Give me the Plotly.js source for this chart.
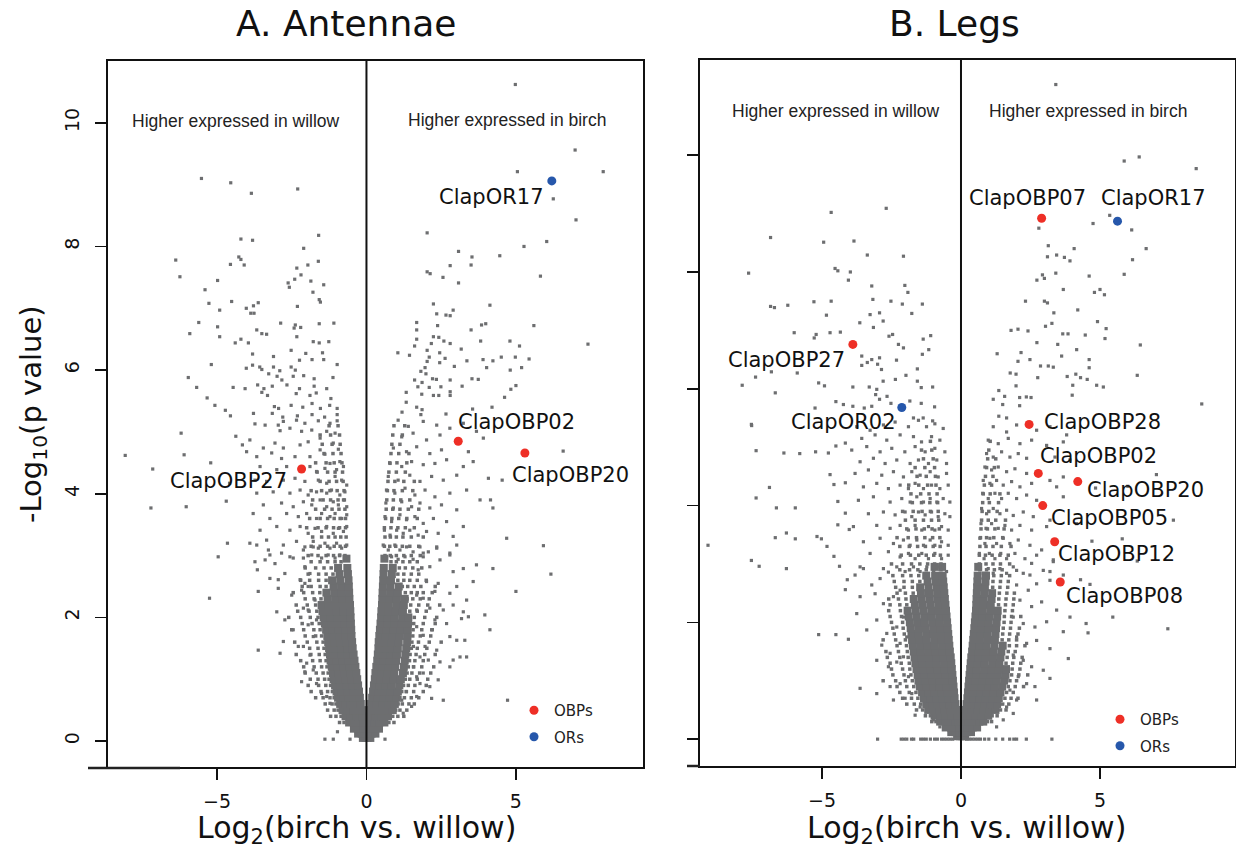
<!DOCTYPE html>
<html><head><meta charset="utf-8">
<script src="https://cdn.plot.ly/plotly-3.0.1.min.js"></script>
<style>html,body{margin:0;padding:0;background:#fff}#chart{width:1236px;height:848px}</style>
</head><body><div id="chart"></div>
<script>
// ---------------- DATA ----------------
// Panel A (Antennae): individual genes (log2 FC, -log10 p)
const antScatter = [
[4.98,10.62],[6.98,9.56],[5.05,9.21],[7.92,9.21],[6.25,8.77],[7.01,8.43],[2.03,8.22],[6.03,8.08],[5.27,8.0],[3.08,7.92],[4.46,7.85],[3.53,7.83],[3.5,7.7],[2.8,7.69],[2.03,7.59],[2.13,7.56],[2.56,7.5],[5.82,7.52],[3.08,7.41],[4.13,7.05],[2.24,7.07],[2.9,6.97],[2.35,6.91],[2.66,6.89],[2.8,6.88],[1.68,6.77],[3.99,6.75],[3.85,6.73],[5.6,6.72],[2.38,6.72],[1.68,6.65],[3.5,6.65],[2.24,6.54],[2.42,6.53],[1.68,6.5],[2.59,6.47],[4.8,6.47],[2.17,6.43],[2.8,6.43],[3.82,6.47],[5.12,6.39],[7.41,6.42],[1.61,6.39],[3.17,6.34],[2.03,6.32],[2.45,6.28],[1.05,6.28],[1.44,6.24],[2.1,6.21],[2.63,6.19],[3.36,6.15],[3.9,6.17],[4.23,6.15],[4.51,6.21],[4.98,6.21],[5.44,6.18],[2.03,6.14],[2.45,6.12],[1.96,6.04],[2.94,6.06],[4.02,6.04],[4.81,6.0],[5.19,6.04],[1.82,5.98],[1.99,5.94],[2.21,5.86],[2.34,5.85],[2.8,5.84],[3.53,5.86],[3.74,5.85],[1.61,5.84],[1.86,5.8],[3.2,5.74],[5.0,5.75],[1.72,5.73],[2.1,5.72],[2.49,5.73],[4.83,5.69],[2.8,5.65],[2.8,5.59],[1.33,5.64],[1.85,5.61],[2.24,5.59],[2.42,5.59],[4.62,5.56],[1.33,5.48],[1.68,5.4],[1.86,5.36],[3.55,5.37],[4.2,5.4],[1.19,5.32],[1.82,5.28],[2.66,5.29],
[-5.52,9.1],[-4.54,9.03],[-3.85,8.86],[-2.3,8.93],[-1.6,8.18],[-4.2,8.12],[-3.81,8.1],[-2.1,7.97],[-6.38,7.78],[-4.27,7.83],[-4.2,7.79],[-4.09,7.7],[-4.55,7.71],[-1.61,7.76],[-1.96,7.7],[-6.24,7.51],[-2.33,7.65],[-2.19,7.54],[-4.98,7.45],[-2.4,7.47],[-2.62,7.41],[-2.58,7.34],[-1.86,7.44],[-1.43,7.38],[-5.4,7.3],[-1.79,7.26],[-1.58,7.14],[-1.54,7.1],[-5.27,7.08],[-4.51,7.11],[-3.62,7.09],[-3.78,7.04],[-4.02,7.0],[-4.91,6.97],[-2.31,7.03],[-3.87,6.92],[-3.76,6.92],[-5.61,6.77],[-4.98,6.7],[-2.87,6.76],[-2.38,6.73],[-2.42,6.68],[-2.2,6.69],[-1.58,6.75],[-1.09,6.76],[-5.91,6.59],[-3.67,6.65],[-3.5,6.59],[-3.34,6.58],[-4.91,6.54],[-2.33,6.54],[-4.2,6.5],[-4.39,6.44],[-3.95,6.44],[-1.78,6.46],[-1.58,6.44],[-1.26,6.46],[-2.52,6.32],[-2.03,6.27],[-1.47,6.28],[-3.81,6.26],[-3.11,6.22],[-1.82,6.17],[-1.43,6.17],[-2.24,6.16],[-5.19,6.09],[-4.02,6.03],[-3.81,6.08],[-3.57,6.05],[-3.5,6.01],[-3.11,6.05],[-2.9,5.99],[-2.52,6.05],[-2.38,6.0],[-0.98,6.09],[-5.96,5.88],[-3.27,5.94],[-2.99,5.9],[-2.83,5.84],[-2.45,5.9],[-2.1,5.91],[-1.75,5.86],[-1.12,5.88],[-5.68,5.72],[-4.46,5.72],[-4.06,5.7],[-3.64,5.76],[-3.43,5.7],[-3.15,5.74],[-2.66,5.76],[-2.24,5.7],[-1.75,5.74],[-1.33,5.7],[-3.5,5.64],[-3.31,5.59],[-2.35,5.62],[-1.89,5.59],[-1.68,5.63],[-5.33,5.55],[-5.07,5.43],[-1.19,5.54],[-3.08,5.41],[-2.94,5.38],[-2.52,5.43],[-2.13,5.4],[-1.82,5.46],[-1.54,5.38],[-1.23,5.43],[-0.98,5.38],[-4.72,5.35],[-4.55,5.26],[-3.78,5.3],[-3.15,5.3],[-2.8,5.24],[-2.31,5.26],[-1.82,5.28],[-1.4,5.24],[-0.98,5.28],
[-8.07,4.62],[-7.15,4.4],[-7.21,3.77],[-6.03,3.79],[-6.2,4.98],[-6.1,4.63],[-4.65,3.2],[-4.96,2.98],[-5.25,2.31],[-4.69,3.88],[-5.21,4.5],[-4.37,4.93],[-4.15,4.79],[-4.01,4.68],[-4.58,4.17],[6.58,4.69],[4.54,4.22],[4.15,3.9],[4.23,3.77],[4.69,3.28],[5.92,3.16],[4.23,2.79],[6.17,2.7],[5.0,2.42],[4.72,0.66],[4.08,4.25],
[-3.73,5.13],[-3.39,5.11],[-2.95,5.11],[-2.78,5.17],[-2.34,5.19],[-2.06,5.14],[-1.61,5.18],[-1.22,5.14],[-0.98,5.18],[-2.89,5.02],[-2.56,5.06],[-2.17,5.01],[-1.83,5.03],[-1.33,5.01],[-1.05,4.98],[-3.9,4.87],[-3.45,4.74],[-3.06,4.82],[-2.78,4.74],[-2.22,4.79],[-1.95,4.84],[-1.55,4.9],[-1.11,4.82],[-1.55,4.71],[-0.94,4.72],[-3.67,4.6],[-3.17,4.66],[-2.84,4.57],[-2.39,4.6],[-1.89,4.6],[-1.39,4.64],[-1.22,4.49],[-0.89,4.52],[-3.56,4.44],[-3.0,4.39],[-2.67,4.44],[-1.89,4.44],[-1.67,4.36],[-1.39,4.41],[-1.0,4.39],[-0.77,4.44],[-3.73,4.22],[-3.34,4.2],[-2.78,4.22],[-2.39,4.25],[-2.06,4.2],[-1.61,4.22],[-1.33,4.17],[-1.05,4.28],[-0.83,4.22],[-0.66,4.14],[-3.67,4.01],[-3.12,4.03],[-2.56,4.01],[-2.22,4.06],[-1.95,3.98],[-1.67,4.03],[-1.33,4.01],[-1.17,4.06],[-0.89,3.98],[-0.72,4.03],[-3.45,3.82],[-2.84,3.85],[-2.45,3.79],[-2.11,3.87],[-1.83,3.82],[-1.55,3.9],[-1.33,3.79],[-1.11,3.87],[-0.94,3.82],[-0.77,3.9],[-0.66,3.79],[-3.79,3.68],[-3.23,3.6],[-2.67,3.68],[-2.28,3.63],[-2.0,3.68],[-1.67,3.6],[-1.5,3.68],[-1.22,3.63],[-1.05,3.68],[-0.83,3.6],[-0.66,3.66],[-3.56,3.41],[-3.0,3.47],[-2.56,3.41],[-2.22,3.47],[-1.95,3.36],[-1.72,3.44],[-1.5,3.39],[-1.33,3.47],[-1.11,3.36],[-0.94,3.44],[-0.77,3.39],[-0.66,3.47],[-3.9,3.2],[-3.34,3.25],[-2.78,3.17],[-2.34,3.23],[-2.06,3.14],[-1.78,3.23],[-1.61,3.12],[-1.39,3.2],[-1.22,3.12],[-1.0,3.2],[-0.83,3.12],[-0.66,3.17],[-3.23,3.01],[-2.56,2.98],[-2.11,2.96],[-1.83,3.01],[-1.5,2.96],[-1.28,3.01],[-1.05,2.96],[-0.89,3.01],[-0.72,2.96],
[1.06,5.19],[1.4,5.09],[1.9,5.17],[2.35,5.11],[2.79,5.06],[3.24,5.14],[3.91,4.9],[1.18,4.92],[1.56,4.98],[2.01,4.87],[2.46,4.95],[3.68,5.01],[0.9,4.74],[1.34,4.68],[1.68,4.76],[2.12,4.65],[2.51,4.71],[3.41,4.68],[0.79,4.49],[1.18,4.44],[1.51,4.52],[1.9,4.47],[2.29,4.49],[2.68,4.55],[3.24,4.44],[3.57,4.52],[0.73,4.28],[1.06,4.22],[1.45,4.3],[1.79,4.2],[2.18,4.28],[2.57,4.22],[3.02,4.3],[0.67,4.06],[0.95,4.01],[1.29,4.09],[1.62,3.98],[1.96,4.06],[2.29,3.95],[2.79,4.01],[3.35,4.06],[0.65,3.85],[0.9,3.77],[1.18,3.87],[1.51,3.79],[1.79,3.85],[2.12,3.77],[2.51,3.82],[3.02,3.74],[3.8,3.9],[0.62,3.63],[0.84,3.55],[1.12,3.66],[1.34,3.58],[1.62,3.63],[1.9,3.52],[2.24,3.6],[2.68,3.55],[3.24,3.47],[0.6,3.41],[0.79,3.33],[1.01,3.41],[1.23,3.36],[1.45,3.41],[1.73,3.33],[2.01,3.39],[2.4,3.36],[2.9,3.31],[0.56,3.17],[0.73,3.09],[0.95,3.17],[1.12,3.09],[1.34,3.14],[1.56,3.06],[1.79,3.14],[2.07,3.06],[2.35,3.12],[2.79,3.04],[0.62,2.96],[0.84,2.98],[1.06,2.94],[1.29,2.98],[1.56,2.94],[1.9,2.98],
[-3.67,3.17],[-3.28,3.09],[-2.84,3.04],[-3.73,2.9],[-3.39,2.93],[-3.06,2.87],[-3.65,2.77],[-2.73,2.71],[-3.23,2.63],[-2.95,2.61],[-2.22,2.61],[-2.06,2.55],[-2.95,2.47],[-2.5,2.36],[-3.62,2.42],[-2.17,2.44],[-1.95,2.5],[-2.11,2.15],[-1.95,2.12],[-3.0,2.09],[-2.73,1.96],[-2.45,1.8],[-3.62,1.47],[-2.89,1.42],[-2.78,1.61],[-2.28,1.53],[-2.11,1.53],[-1.89,1.39],[-2.0,1.26],[-2.06,1.12],[-2.17,0.96],[-1.78,1.15],[-1.67,0.93],[-1.5,0.77],[-1.33,0.72],[-1.22,0.61],[-1.39,0.03],[-1.11,0.03],[-0.55,0.03],[-0.97,0.15],[-1.78,1.69],[-1.95,1.88],[-1.67,1.96],[-1.72,2.28],[-1.89,2.71],[-2.06,2.82],[-2.45,2.96],[-2.11,3.09],[-1.78,3.14],
[0.62,0.03],[1.23,0.45],[1.51,0.56],[1.18,0.66],[1.68,0.72],[1.34,0.8],[1.79,0.93],[2.12,0.88],[2.57,0.66],[2.18,0.69],[1.68,1.04],[1.9,1.1],[2.4,0.99],[2.79,1.2],[2.46,1.28],[2.9,1.31],[1.57,1.2],[1.79,1.36],[2.07,1.31],[3.13,1.36],[3.35,1.36],[1.57,1.53],[1.96,1.53],[2.35,1.47],[2.79,1.69],[3.02,1.63],[3.29,1.63],[1.9,1.71],[2.18,1.8],[1.68,1.85],[2.29,1.96],[2.68,1.9],[3.18,1.98],[3.41,2.01],[3.96,2.04],[1.68,2.12],[2.12,2.15],[2.57,2.12],[2.9,2.2],[3.24,2.09],[1.68,2.36],[1.9,2.31],[2.29,2.42],[2.79,2.39],[3.02,2.5],[3.35,2.28],[2.01,2.58],[2.4,2.55],[2.9,2.74],[3.57,2.58],[1.73,2.77],[2.12,2.82],[2.46,2.93],[2.79,3.01],[3.24,2.79],[3.68,2.85],[1.9,3.04],[2.35,3.14],[3.02,3.17],[4.13,1.8]
];
// Panel A dense core of the volcano: rows of [-log10 p, log2 FC, log2 FC, ...]
const antCoreRows = [
[0.05,-0.12,-0.03,0.04,0.13],
[0.12,-0.28,-0.16,-0.06,0.06,0.17,0.3],
[0.2,-0.42,-0.26,-0.1,0.08,0.24,0.42],
[0.3,-0.58,-0.41,-0.25,-0.1,0.09,0.26,0.43,0.6],
[0.4,-0.7,-0.52,-0.33,-0.14,0.11,0.3,0.5,0.72],
[0.5,-0.8,-0.62,-0.43,-0.25,-0.15,0.13,0.32,0.52,0.72,0.88],
[0.6,-0.88,-0.7,-0.52,-0.35,-0.19,0.16,0.34,0.54,0.74,0.95],
[0.7,-0.95,-0.78,-0.6,-0.42,-0.22,0.19,0.37,0.57,0.77,1.0],
[0.8,-1.0,-0.82,-0.63,-0.44,-0.25,0.22,0.4,0.6,0.8,1.05],
[0.9,-1.05,-0.86,-0.66,-0.47,-0.28,0.25,0.44,0.64,0.85,1.1],
[1.0,-1.1,-0.9,-0.7,-0.5,-0.31,0.28,0.47,0.68,0.9,1.15],
[1.1,-1.12,-0.92,-0.73,-0.53,-0.34,0.3,0.5,0.71,0.93,1.22],
[1.2,-1.16,-0.96,-0.76,-0.56,-0.37,0.33,0.53,0.74,0.96,1.25],
[1.3,-1.2,-0.99,-0.79,-0.59,-0.4,0.36,0.56,0.77,0.99,1.28],
[1.4,-1.22,-1.02,-0.82,-0.62,-0.43,0.38,0.58,0.8,1.02,1.3],
[1.5,-1.25,-1.05,-0.85,-0.65,-0.46,0.4,0.6,0.82,1.05,1.33],
[1.6,-1.28,-1.08,-0.88,-0.68,-0.48,0.41,0.62,0.84,1.08,1.36],
[1.7,-1.31,-1.1,-0.9,-0.7,-0.5,0.43,0.64,0.87,1.12,1.37],
[1.8,-1.35,-1.14,-0.92,-0.71,-0.51,0.45,0.66,0.9,1.15,1.38],
[1.9,-1.39,-1.17,-0.95,-0.73,-0.52,0.47,0.69,0.93,1.18,1.39],
[2.0,-1.43,-1.2,-0.97,-0.75,-0.53,0.49,0.71,0.95,1.2,1.4],
[2.1,-1.47,-1.23,-1.0,-0.77,-0.54,0.5,0.73,0.98,1.22],
[2.2,-1.5,-1.26,-1.02,-0.78,-0.55,0.52,0.75,1.0,1.25],
[2.3,-1.3,-1.05,-0.8,-0.57,0.53,0.77,1.02,1.28],
[2.4,-1.34,-1.08,-0.82,-0.58,0.54,0.79,1.05],
[2.5,-1.1,-0.85,-0.59,0.55,0.8,1.08],
[2.6,-1.15,-0.88,-0.6,0.56,0.82],
[2.7,-0.9,-0.62,0.57,0.85],
[2.8,-0.95,-0.64,0.58,0.88],
[2.95,-0.67,0.6]
];
// Panel A: the busy band of genes around the dense core, rows of [-log10 p, log2 FC, ...]
const antHaloRows = [
[0.3,-0.75,-0.9,0.75,0.92],
[0.4,-0.85,-1.02,-1.2,0.88,1.05,1.25],
[0.5,-0.95,-1.08,-1.3,0.98,1.12,1.35],
[0.6,-1.02,-1.15,-1.38,1.06,1.2,1.42,1.6],
[0.7,-1.08,-1.22,-1.45,-1.7,1.12,1.27,1.5,1.75],
[0.8,-1.14,-1.3,-1.52,-1.85,1.18,1.33,1.58,1.9],
[0.9,-1.2,-1.36,-1.6,-1.95,1.24,1.4,1.62,2.0],
[1.0,-1.25,-1.4,-1.62,-1.88,1.3,1.45,1.7,2.05],
[1.1,-1.28,-1.45,-1.68,-2.05,1.36,1.52,1.78,2.15],
[1.2,-1.32,-1.5,-1.75,-2.1,1.4,1.58,1.85,2.25],
[1.3,-1.35,-1.55,-1.8,-2.2,1.44,1.62,1.9],
[1.4,-1.38,-1.58,-1.86,-2.35,1.46,1.66,1.95,2.3],
[1.5,-1.42,-1.62,-1.9,1.5,1.7,2.02],
[1.6,-1.45,-1.66,-1.98,-2.4,1.52,1.74,2.1,2.5],
[1.7,-1.5,-1.7,-2.05,1.55,1.8,2.15],
[1.8,-1.55,-1.76,-2.1,-2.5,1.56,1.85,2.2],
[1.9,-1.58,-1.82,-2.15,1.58,1.9,2.3],
[2.0,-1.62,-1.88,-2.2,-2.6,1.6,1.95,2.35],
[2.1,-1.66,-1.92,-2.3,1.45,1.7,2.0],
[2.2,-1.7,-1.98,-2.35,1.48,1.75,2.05,2.45],
[2.3,-1.52,-1.75,-2.05,1.36,1.55,1.8,2.1],
[2.4,-1.56,-1.8,-2.1,-2.45,1.3,1.5,1.7,1.9,2.2],
[2.5,-1.35,-1.55,-1.85,-2.15,1.2,1.38,1.6,1.82,2.3],
[2.6,-1.35,-1.6,-1.9,-2.2,1.05,1.25,1.45,1.7,2.0],
[2.7,-1.12,-1.35,-1.6,-1.95,1.05,1.25,1.5,1.75],
[2.8,-1.18,-1.42,-1.7,-2.05,1.1,1.3,1.55,1.85],
[2.9,-0.85,-1.05,-1.3,-1.55,-1.85,0.82,1.0,1.22,1.45,1.7],
[3.0,-0.72,-0.9,-1.1,-1.35,-1.62,-1.95,0.62,0.8,1.0,1.25,1.5,1.8],
[3.15,-0.7,-0.88,-1.08,-1.3,-1.55,-1.85,0.6,0.78,0.98,1.2,1.45,1.75],
[3.3,-0.68,-0.86,-1.05,-1.27,-1.5,-1.8,0.62,0.8,1.0,1.22,1.5,1.9],
[3.45,-0.7,-0.9,-1.1,-1.35,-1.62,-2.0,0.6,0.82,1.05,1.3,1.6],
[3.6,-0.7,-0.88,-1.08,-1.3,-1.55,-1.9,0.64,0.85,1.08,1.35,1.7],
[3.75,-0.72,-0.92,-1.15,-1.4,-1.7,0.66,0.88,1.12,1.4,1.75],
[3.9,-0.74,-0.95,-1.2,-1.45,-1.8,0.68,0.9,1.15,1.45],
[4.05,-0.75,-0.98,-1.22,-1.5,-1.85,0.7,0.92,1.2,1.55],
[4.2,-0.78,-1.0,-1.25,-1.55,0.72,0.95,1.25,1.6],
[4.35,-0.8,-1.05,-1.3,-1.65,0.75,1.0,1.3],
[4.5,-0.82,-1.08,-1.35,-1.7,0.78,1.02,1.35],
[4.65,-0.85,-1.12,-1.42,0.82,1.08,1.42],
[4.8,-0.88,-1.15,-1.48,0.85,1.12],
[4.95,-0.9,-1.2,-1.55,0.88,1.2],
[5.1,-0.95,-1.25,0.92,1.28]
];
const antGenes = ['ClapOR17','ClapOBP02','ClapOBP20','ClapOBP27'];
const antGeneX = [6.2, 3.07, 5.3, -2.17];
const antGeneY = [9.06, 4.85, 4.66, 4.40];
const antGeneType = ['ORs','OBPs','OBPs','OBPs'];

// Panel B (Legs)
const legScatter = [
[3.41,11.21],[6.41,9.97],[5.87,9.9],[8.46,9.77],[4.75,8.83],[5.35,8.97],[2.8,8.75],[6.14,8.72],[6.66,8.4],[3.14,8.45],[4.07,8.4],[3.44,8.29],[3.72,8.25],[3.92,8.19],[3.11,8.26],[6.17,8.21],[3.41,7.98],[2.93,7.95],[2.73,7.86],[3.0,7.89],[4.61,7.93],[5.87,7.96],[3.68,7.7],[4.8,7.65],[5.0,7.7],[5.16,7.61],[2.32,7.5],[3.0,7.5],[3.11,7.47],[4.2,7.35],[3.34,7.3],[4.91,7.15],[3.27,7.12],[3.04,7.07],[5.22,7.03],[1.8,7.0],[2.05,7.02],[2.41,6.99],[3.66,6.94],[3.85,6.94],[4.47,6.92],[5.18,6.86],[2.73,6.79],[3.48,6.76],[6.45,6.75],[4.16,6.67],[1.3,6.6],[2.16,6.62],[3.62,6.56],[2.05,6.47],[2.48,6.5],[2.86,6.39],[3.14,6.39],[4.61,6.5],[4.61,6.36],[3.32,6.37],[1.77,6.27],[1.98,6.25],[2.76,6.19],[3.82,6.21],[4.13,6.25],[4.3,6.19],[4.54,6.16],[6.34,6.23],[1.98,6.05],[4.02,6.06],[4.88,6.06],[5.12,6.03],[1.36,5.97],[1.57,5.87],[2.11,5.85],[2.35,5.86],[4.0,5.89],[8.66,5.74],[1.16,5.82],[1.5,5.73],[2.11,5.71],[2.52,5.85],[1.36,5.53],[1.64,5.5],
[-2.69,9.09],[-4.67,9.02],[-6.85,8.59],[-4.94,8.51],[-3.85,8.53],[-3.37,8.29],[-2.07,8.27],[-7.64,7.98],[-4.53,8.06],[-4.43,8.02],[-3.98,8.0],[-4.05,7.86],[-3.21,7.76],[-2.02,7.77],[-1.91,7.65],[-6.85,7.41],[-6.71,7.39],[-6.23,7.43],[-5.29,7.49],[-4.67,7.5],[-3.17,7.53],[-2.52,7.5],[-2.11,7.45],[-1.39,7.45],[-4.84,7.26],[-3.27,7.27],[-2.93,7.3],[-2.8,7.16],[-1.77,7.29],[-3.64,7.13],[-3.15,7.05],[-6.0,6.96],[-5.21,6.93],[-4.71,6.96],[-4.34,6.97],[-2.59,6.9],[-2.46,6.93],[-1.36,6.85],[-1.09,6.91],[-5.28,6.87],[-2.07,6.7],[-2.25,6.76],[-1.16,6.67],[-3.57,6.56],[-3.21,6.5],[-2.93,6.53],[-2.32,6.49],[-1.39,6.59],[-1.57,6.34],[-7.39,6.2],[-6.82,6.29],[-5.89,6.27],[-3.57,6.4],[-3.37,6.45],[-3.0,6.42],[-2.86,6.33],[-7.87,6.06],[-6.68,5.93],[-5.12,6.1],[-4.91,6.05],[-3.89,6.03],[-3.3,6.03],[-2.8,6.13],[-2.36,6.16],[-1.98,6.23],[-1.43,6.02],[-1.02,6.03],[-3.03,5.99],[-3.07,5.9],[-2.66,5.87],[-1.57,6.13],[-4.5,5.78],[-4.23,5.73],[-3.89,5.7],[-3.48,5.67],[-3.21,5.7],[-2.93,5.82],[-2.52,5.75],[-1.84,5.79],[-1.43,5.75],[-0.95,5.69],[-5.25,5.67],[-7.53,5.37],[-1.71,5.5],[-1.36,5.5],[-1.02,5.45],
[-7.54,5.39],[-7.37,4.94],[-6.37,4.9],[-5.8,4.89],[-5.23,4.92],[-4.77,4.9],[-4.16,5.07],[-4.5,5.02],[-6.89,4.31],[-7.37,4.13],[-6.64,3.96],[-5.96,3.96],[-6.68,3.45],[-6.28,3.53],[-5.96,3.43],[-5.18,3.47],[-5.02,3.43],[-4.82,3.3],[-9.1,3.32],[-7.54,3.06],[-7.26,2.96],[-6.28,2.92],[-5.12,1.79],[-4.5,1.79],[-4.05,1.71],[-4.71,4.53],[-4.57,4.36],[-4.16,4.39],[-4.43,4.07],[-4.16,3.87],[-4.43,3.67],[-4.02,3.59],[-4.57,3.13],[-4.37,2.96],[-4.09,2.73],[-4.16,2.56],
[7.44,1.89],[5.46,2.09],[4.64,2.65],[4.71,3.39],[5.8,3.43],[6.34,3.05],[7.64,3.75],[7.03,4.53],[6.0,4.33],[4.84,4.3],[4.5,1.98],[4.3,2.73],[4.57,1.82],
[-3.75,5.35],[-3.27,5.29],[-2.79,5.38],[-2.37,5.43],[-1.89,5.35],[-1.53,5.46],[-1.24,5.35],[-0.94,5.4],[-0.64,5.32],[-3.57,5.15],[-3.09,5.21],[-2.67,5.12],[-2.19,5.21],[-1.71,5.18],[-1.42,5.09],[-1.06,5.18],[-0.76,5.12],[-3.93,4.95],[-3.39,5.01],[-2.91,4.92],[-2.49,4.98],[-2.02,4.92],[-1.65,5.01],[-1.29,4.92],[-0.94,4.98],[-0.58,4.92],[-3.63,4.75],[-3.15,4.81],[-2.73,4.72],[-2.31,4.78],[-1.83,4.72],[-1.53,4.78],[-1.17,4.72],[-0.87,4.78],[-0.52,4.72],[-3.81,4.55],[-3.33,4.61],[-2.85,4.52],[-2.43,4.58],[-2.07,4.49],[-1.77,4.58],[-1.47,4.52],[-1.11,4.58],[-0.82,4.49],[-0.52,4.55],[-3.51,4.32],[-3.03,4.38],[-2.61,4.29],[-2.19,4.35],[-1.89,4.29],[-1.65,4.38],[-1.35,4.29],[-1.06,4.35],[-0.76,4.29],[-0.46,4.35],[-3.69,4.09],[-3.15,4.15],[-2.55,4.06],[-2.13,4.12],[-1.83,4.06],[-1.59,4.15],[-1.35,4.06],[-1.11,4.12],[-0.87,4.06],[-0.64,4.12],[-0.4,4.06],[-3.33,3.86],[-2.79,3.89],[-2.37,3.84],[-2.01,3.89],[-1.77,3.81],[-1.53,3.89],[-1.29,3.84],[-1.06,3.89],[-0.82,3.81],[-0.58,3.86],[-0.4,3.81],[-3.87,3.64],[-3.03,3.66],[-2.55,3.61],[-2.19,3.66],[-1.89,3.58],[-1.65,3.66],[-1.41,3.58],[-1.17,3.64],[-0.94,3.58],[-0.7,3.64],[-0.46,3.58],[-3.51,3.38],[-2.91,3.44],[-2.43,3.35],[-2.07,3.41],[-1.83,3.32],[-1.59,3.41],[-1.35,3.32],[-1.11,3.41],[-0.94,3.32],[-0.7,3.38],[-0.46,3.32],[-3.27,3.18],[-2.61,3.21],[-2.19,3.12],[-1.89,3.18],[-1.65,3.09],[-1.41,3.18],[-1.17,3.09],[-0.94,3.18],[-0.7,3.09],[-0.46,3.15],[-3.63,2.95],[-2.79,2.92],[-2.31,2.95],[-2.01,2.87],[-1.71,2.95],[-1.47,2.87],[-1.23,2.95],[-0.99,2.87],[-0.76,2.95],[-0.52,2.87],
[1.16,5.35],[1.64,5.26],[2.0,5.38],[2.72,5.29],[3.2,5.35],[3.8,5.21],[0.98,5.12],[1.34,5.06],[1.7,5.15],[2.12,5.06],[2.54,5.12],[3.08,5.03],[3.68,5.09],[0.92,4.89],[1.16,4.83],[1.46,4.92],[1.76,4.83],[2.06,4.89],[2.36,4.81],[3.38,4.83],[3.92,4.78],[0.86,4.66],[1.1,4.61],[1.34,4.66],[1.64,4.58],[1.94,4.63],[2.36,4.55],[3.2,4.43],[3.68,4.49],[0.8,4.43],[1.04,4.38],[1.28,4.43],[1.52,4.35],[1.82,4.41],[2.12,4.32],[2.54,4.38],[3.44,4.32],[0.78,4.21],[0.98,4.12],[1.22,4.21],[1.46,4.12],[1.7,4.21],[2.0,4.12],[2.36,4.18],[2.72,4.09],[3.68,4.15],[0.74,3.95],[0.92,3.86],[1.16,3.95],[1.4,3.86],[1.64,3.92],[1.88,3.83],[2.24,3.89],[2.6,3.81],[3.2,3.75],[0.72,3.69],[0.9,3.61],[1.1,3.69],[1.34,3.61],[1.58,3.66],[1.82,3.58],[2.12,3.66],[2.54,3.58],[3.08,3.64],[4.16,3.69],[0.68,3.44],[0.86,3.35],[1.04,3.44],[1.28,3.35],[1.52,3.44],[1.76,3.35],[2.06,3.41],[2.48,3.32],[2.9,3.24],[0.66,3.18],[0.83,3.09],[1.02,3.18],[1.22,3.09],[1.43,3.18],[1.64,3.09],[1.94,3.18],[2.3,3.09],[2.72,3.15],[3.32,3.07],[0.62,2.92],[0.8,2.84],[0.98,2.92],[1.16,2.84],[1.4,2.92],[1.64,2.84],[2.0,2.89],[2.48,2.81],[3.2,2.87],
[-3.81,2.81],[-3.51,2.92],[-3.21,2.64],[-2.91,2.75],[-2.61,2.86],[-3.63,2.44],[-3.09,2.49],[-2.79,2.32],[-2.43,2.44],[-2.19,2.55],[-3.75,2.15],[-3.39,1.87],[-3.03,2.04],[-2.67,1.81],[-2.31,1.92],[-2.07,2.09],[-2.85,1.61],[-2.55,1.47],[-2.19,1.64],[-1.95,1.75],[-3.03,1.35],[-2.61,1.24],[-2.31,1.32],[-2.07,1.41],[-3.63,0.87],[-3.03,0.78],[-2.55,0.9],[-2.19,0.95],[-1.89,1.07],[-2.43,0.67],[-2.01,0.7],[-1.77,0.78],[-1.65,0.41],[-1.47,0.55],[-0.99,0.33],[-0.76,0.21],
[1.88,2.95],[2.24,2.84],[2.54,3.01],[2.96,2.89],[3.32,3.04],[2.0,2.64],[2.42,2.55],[2.72,2.66],[3.2,2.72],[3.68,2.81],[2.12,2.38],[2.54,2.27],[2.9,2.35],[3.44,2.21],[3.92,2.09],[1.88,2.09],[2.24,1.98],[2.66,1.92],[3.08,2.01],[3.68,1.84],[2.0,1.75],[2.36,1.64],[2.72,1.69],[3.2,1.55],[3.86,1.38],[1.88,1.44],[2.24,1.35],[2.54,1.24],[2.96,1.18],[2.06,1.07],[2.36,0.95],[2.66,0.9],[1.76,0.84],[2.0,0.67],[1.64,0.55],[1.88,0.44],[1.52,0.33],[1.28,0.21],[2.72,0.67],[3.2,1.04],
[-3.0,0],[-2.15,0],[-2.05,0],[-1.95,0],[-1.78,0],[-1.7,0],[-1.45,0],[-1.35,0],[-1.25,0],[-1.1,0],[-0.95,0],[-0.85,0],[-0.7,0],[-0.6,0],[-0.5,0],[-0.4,0],[-0.3,0],[0.2,0],[0.3,0],[0.4,0],[0.5,0],[0.6,0],[0.7,0],[0.85,0],[1.0,0],[1.25,0],[1.5,0],[1.75,0],[1.9,0],[2.0,0],[2.35,0],[3.27,0]
];
const legCoreRows = [
[0.05,-0.14,-0.04,0.05,0.15],
[0.12,-0.35,-0.2,-0.06,0.07,0.21,0.36],
[0.2,-0.55,-0.36,-0.18,-0.06,0.08,0.25,0.42,0.58],
[0.3,-0.75,-0.55,-0.36,-0.19,-0.09,0.1,0.28,0.47,0.66,0.8],
[0.4,-0.95,-0.75,-0.55,-0.35,-0.14,0.14,0.33,0.53,0.74,0.98],
[0.5,-1.18,-0.98,-0.78,-0.58,-0.38,-0.18,0.18,0.38,0.58,0.8,1.02,1.24],
[0.6,-1.25,-1.04,-0.83,-0.62,-0.41,-0.2,0.2,0.41,0.62,0.84,1.07,1.3],
[0.7,-1.33,-1.11,-0.89,-0.67,-0.45,-0.23,0.23,0.44,0.66,0.88,1.12,1.36],
[0.8,-1.4,-1.17,-0.94,-0.71,-0.48,-0.25,0.25,0.47,0.7,0.93,1.17,1.42],
[0.9,-1.48,-1.24,-1.0,-0.76,-0.51,-0.27,0.27,0.5,0.74,0.98,1.22,1.48],
[1.0,-1.53,-1.29,-1.04,-0.79,-0.54,-0.29,0.29,0.53,0.77,1.02,1.28,1.55],
[1.1,-1.56,-1.32,-1.07,-0.82,-0.56,-0.31,0.31,0.55,0.8,1.06,1.33,1.6],
[1.2,-1.6,-1.35,-1.1,-0.85,-0.59,-0.33,0.33,0.57,0.83,1.09,1.36,1.62],
[1.3,-1.64,-1.38,-1.13,-0.87,-0.61,-0.35,0.35,0.59,0.85,1.12,1.38],
[1.4,-1.67,-1.41,-1.15,-0.89,-0.63,-0.37,0.37,0.62,0.88,1.15,1.42],
[1.5,-1.7,-1.44,-1.18,-0.92,-0.66,-0.4,0.4,0.64,0.9,1.17,1.45],
[1.6,-1.73,-1.47,-1.2,-0.94,-0.68,-0.42,0.42,0.66,0.92,1.2,1.5],
[1.7,-1.76,-1.5,-1.23,-0.96,-0.7,-0.44,0.44,0.68,0.94,1.22],
[1.8,-1.78,-1.52,-1.25,-0.98,-0.72,-0.46,0.46,0.7,0.96,1.24],
[1.9,-1.81,-1.54,-1.27,-1.0,-0.74,-0.48,0.48,0.72,0.98,1.26],
[2.0,-1.84,-1.57,-1.3,-1.03,-0.76,-0.5,0.5,0.74,1.0,1.28],
[2.1,-1.88,-1.6,-1.32,-1.05,-0.78,-0.52,0.52,0.76,1.02,1.3],
[2.2,-1.92,-1.63,-1.35,-1.07,-0.8,-0.54,0.54,0.78,1.05,1.32],
[2.3,-1.66,-1.38,-1.1,-0.82,-0.56,0.55,0.8,1.07],
[2.4,-1.7,-1.41,-1.12,-0.84,-0.58,0.56,0.82,1.1],
[2.5,-1.44,-1.15,-0.86,-0.6,0.57,0.84,1.12],
[2.6,-1.47,-1.17,-0.88,-0.62,0.58,0.86],
[2.7,-1.2,-0.9,-0.64,0.59,0.88],
[2.8,-1.25,-0.93,-0.66,0.6,0.9],
[2.95,-0.95,-0.68,0.62]
];
const legHaloRows = [
[0.3,-0.9,-1.05,0.95,1.1],
[0.4,-1.1,-1.28,1.12,1.3],
[0.5,-1.38,-1.6,1.42,1.62],
[0.6,-1.45,-1.68,-1.95,1.5,1.72],
[0.7,-1.55,-1.78,-2.1,1.58,1.8,2.05],
[0.8,-1.62,-1.86,-2.2,1.64,1.88],
[0.9,-1.7,-1.95,-2.3,1.7,1.95,2.25],
[1.0,-1.75,-2.0,-2.35,-2.8,1.76,2.0],
[1.1,-1.8,-2.05,-2.45,1.82,2.08,2.4],
[1.2,-1.84,-2.1,-2.5,1.84,2.12],
[1.3,-1.86,-2.15,-2.55,1.62,1.86,2.15],
[1.4,-1.9,-2.2,-2.65,1.66,1.9,2.2],
[1.5,-1.93,-2.25,-2.7,1.7,1.95],
[1.6,-1.96,-2.3,1.74,2.0,2.3],
[1.7,-2.0,-2.35,-2.8,1.48,1.72,2.0],
[1.8,-2.04,-2.4,1.5,1.75,2.05],
[1.9,-2.08,-2.45,1.52,1.78,2.1],
[2.0,-2.1,-2.5,1.55,1.8],
[2.1,-2.14,-2.55,1.56,1.82,2.15],
[2.2,-2.18,-2.6,1.58,1.85],
[2.3,-1.95,-2.2,-2.55,1.35,1.6,1.88],
[2.4,-1.98,-2.25,-2.6,1.36,1.62,1.9],
[2.5,-1.72,-2.0,-2.3,1.38,1.65,1.92],
[2.6,-1.75,-2.05,-2.35,1.14,1.4,1.68],
[2.7,-1.48,-1.75,-2.05,-2.4,1.15,1.42,1.7],
[2.8,-1.52,-1.8,-2.1,-2.45,1.18,1.45,1.75],
[2.9,-0.72,-0.98,-1.25,-1.55,-1.85,-2.2,0.68,0.92,1.2,1.48],
[3.0,-0.72,-0.95,-1.2,-1.48,-1.78,-2.1,-2.5,0.66,0.9,1.15,1.42,1.75],
[3.15,-0.74,-0.98,-1.25,-1.52,-1.82,-2.15,0.66,0.88,1.12,1.4,1.7],
[3.3,-0.75,-1.0,-1.28,-1.56,-1.86,-2.2,0.68,0.9,1.15,1.45,1.8],
[3.45,-0.76,-1.02,-1.3,-1.6,-1.9,-2.3,0.7,0.92,1.18,1.5],
[3.6,-0.78,-1.04,-1.32,-1.62,-1.95,0.72,0.95,1.22,1.55],
[3.75,-0.8,-1.06,-1.35,-1.65,-2.0,0.74,0.98,1.25,1.6],
[3.9,-0.82,-1.1,-1.4,-1.72,-2.1,0.76,1.0,1.3],
[4.05,-0.84,-1.12,-1.42,-1.75,0.78,1.02,1.35],
[4.2,-0.86,-1.15,-1.45,-1.8,0.8,1.05,1.4],
[4.35,-0.9,-1.2,-1.52,-1.88,0.84,1.1],
[4.5,-0.92,-1.25,-1.58,0.88,1.15],
[4.65,-0.95,-1.3,-1.65,0.92,1.2],
[4.8,-1.0,-1.35,0.96,1.25],
[4.95,-1.05,-1.42,1.0],
[5.1,-1.1,1.05]
];
const legGenes = ['ClapOBP07','ClapOR17','ClapOBP27','ClapOR02','ClapOBP28','ClapOBP02','ClapOBP20','ClapOBP05','ClapOBP12','ClapOBP08'];
const legGeneX = [2.9, 5.63, -3.89, -2.13, 2.45, 2.78, 4.2, 2.94, 3.37, 3.57];
const legGeneY = [8.92, 8.87, 6.76, 5.68, 5.39, 4.55, 4.41, 4.0, 3.38, 2.69];
const legGeneType = ['OBPs','ORs','OBPs','ORs','OBPs','OBPs','OBPs','OBPs','OBPs','OBPs'];

const xTicks = [-5, 0, 5];
const yTicks = [0, 2, 4, 6, 8, 10];

// ---------------- STYLE ----------------
const GRAY = '#6d6e70', RED = '#ee2f26', BLUE = '#2657ab';
const FONT = 'DejaVu Sans, Verdana, sans-serif';
const NARROW = 'Liberation Sans, Arial, sans-serif';
const antLabelShift = {ClapOR17:[-60,-16], ClapOBP02:[58,19], ClapOBP20:[46,-22], ClapOBP27:[-73,-12]};
const legLabelShift = {ClapOBP07:[-14,20], ClapOR17:[36,23], ClapOBP27:[-66,-16], ClapOR02:[-58,-15], ClapOBP28:[73,2],
  ClapOBP02:[60,17], ClapOBP20:[68,-8], ClapOBP05:[67,-12], ClapOBP12:[62,-12], ClapOBP08:[64,-14]};

function fromPairs(p){ return {x:p.map(d=>d[0]), y:p.map(d=>d[1])}; }
function fromRows(rows){ const x=[],y=[]; rows.forEach(r=>{ for(let i=1;i<r.length;i++){ x.push(r[i]); y.push(r[0]); } }); return {x,y}; }

function grayTrace(d, xa, ya, size){
  return {type:'scatter', mode:'markers', x:d.x, y:d.y, xaxis:xa, yaxis:ya, showlegend:false, hoverinfo:'skip',
    marker:{symbol:'square', size:size, color:GRAY}};
}
function panel(scatter, core, halo, gx, gy, gtype, xa, ya, leg){
  const tr = [grayTrace(fromRows(core), xa, ya, 8), grayTrace(fromRows(halo), xa, ya, 3.5), grayTrace(fromPairs(scatter), xa, ya, 3.2)];
  [['OBPs', RED], ['ORs', BLUE]].forEach(([name, col]) => {
    const idx = gtype.map((t,i)=>t===name?i:-1).filter(i=>i>=0);
    tr.push({type:'scatter', mode:'markers', name:name, x:idx.map(i=>gx[i]), y:idx.map(i=>gy[i]),
      xaxis:xa, yaxis:ya, legend:leg, legendgroup:leg+name, marker:{size:9, color:col}});
  });
  return tr;
}

const traces = [].concat(
  panel(antScatter, antCoreRows, antHaloRows, antGeneX, antGeneY, antGeneType, 'x', 'y', 'legend'),
  panel(legScatter, legCoreRows, legHaloRows, legGeneX, legGeneY, legGeneType, 'x2', 'y2', 'legend2')
);

const annotations = [];
function labels(genes, gx, gy, shifts, xa, ya){
  genes.forEach((g,i)=>annotations.push({x:gx[i], y:gy[i], xref:xa, yref:ya, text:g, showarrow:false,
    xshift:shifts[g][0], yshift:shifts[g][1], font:{family:FONT, size:21, color:'#111'}}));
}
labels(antGenes, antGeneX, antGeneY, antLabelShift, 'x', 'y');
labels(legGenes, legGeneX, legGeneY, legLabelShift, 'x2', 'y2');

const W = 1236, H = 848;
function px(x){ return x/W; } function py(y){ return 1 - y/H; }
function paperText(text, x, y, size, family, extra){
  annotations.push(Object.assign({text, x:px(x), y:py(y), xref:'paper', yref:'paper', showarrow:false,
    xanchor:'center', yanchor:'middle', font:{family, size, color:'#111'}}, extra||{}));
}
paperText('A. Antennae', 346, 24, 36, FONT);
paperText('B. Legs', 955, 24, 36, FONT);
paperText('Higher expressed in willow', 236, 121, 17.5, NARROW, {font:{family:NARROW,size:17.5,color:'#222'}});
paperText('Higher expressed in birch', 507, 120, 17.5, NARROW, {font:{family:NARROW,size:17.5,color:'#222'}});
paperText('Higher expressed in willow', 836, 111, 17.5, NARROW, {font:{family:NARROW,size:17.5,color:'#222'}});
paperText('Higher expressed in birch', 1088, 111, 17.5, NARROW, {font:{family:NARROW,size:17.5,color:'#222'}});
paperText('Log<sub>2</sub>(birch vs. willow)', 356, 829, 30, FONT);
paperText('Log<sub>2</sub>(birch vs. willow)', 966, 829, 30, FONT);
paperText('-Log<sub>10</sub>(p value)', 33, 414, 29, FONT, {textangle:-90});

const axisCommon = {showline:true, mirror:true, linecolor:'#111', linewidth:2, showgrid:false, zeroline:false,
  ticks:'outside', ticklen:11, tickwidth:1.5, tickcolor:'#111', tickfont:{family:FONT, size:19, color:'#111'}, ticklabelstandoff:5};

const layout = {
  width:W, height:H, margin:{l:0, r:0, t:0, b:0}, paper_bgcolor:'#fff', plot_bgcolor:'#fff',
  xaxis: Object.assign({}, axisCommon, {domain:[px(108), px(643)], range:[-8.646, 9.251], tickvals:xTicks, anchor:'y'}),
  yaxis: Object.assign({}, axisCommon, {domain:[py(767), py(61)], range:[-0.42, 11.0], tickvals:yTicks, tickangle:-90, anchor:'x', ticklabelstandoff:8}),
  xaxis2: Object.assign({}, axisCommon, {domain:[px(700), px(1235)], range:[-9.388, 9.856], tickvals:xTicks, anchor:'y2'}),
  yaxis2: Object.assign({}, axisCommon, {domain:[py(766), py(60)], range:[-0.46, 11.63], tickvals:yTicks, showticklabels:false, anchor:'x2'}),
  legend: {x:px(514), y:py(694), xanchor:'left', yanchor:'top', bgcolor:'rgba(0,0,0,0)', borderwidth:0,
    font:{family:FONT, size:15, color:'#222'}, tracegroupgap:4, traceorder:'grouped'},
  legend2: {x:px(1100), y:py(703), xanchor:'left', yanchor:'top', bgcolor:'rgba(0,0,0,0)', borderwidth:0,
    font:{family:FONT, size:15, color:'#222'}, tracegroupgap:4, traceorder:'grouped'},
  shapes: [
    {type:'line', xref:'x', yref:'y domain', x0:0, x1:0, y0:0, y1:1, line:{color:'#111', width:2}},
    {type:'line', xref:'x2', yref:'y2 domain', x0:0, x1:0, y0:0, y1:1, line:{color:'#111', width:2}},
    {type:'line', xref:'paper', yref:'paper', x0:px(88), x1:px(180), y0:py(768), y1:py(768), line:{color:'#222', width:2.5}},
    {type:'line', xref:'paper', yref:'paper', x0:px(687), x1:px(700), y0:py(766), y1:py(766), line:{color:'#222', width:2.5}}
  ],
  annotations: annotations,
  showlegend: true
};

Plotly.newPlot('chart', traces, layout, {displayModeBar:false, staticPlot:true});
</script></body></html>
